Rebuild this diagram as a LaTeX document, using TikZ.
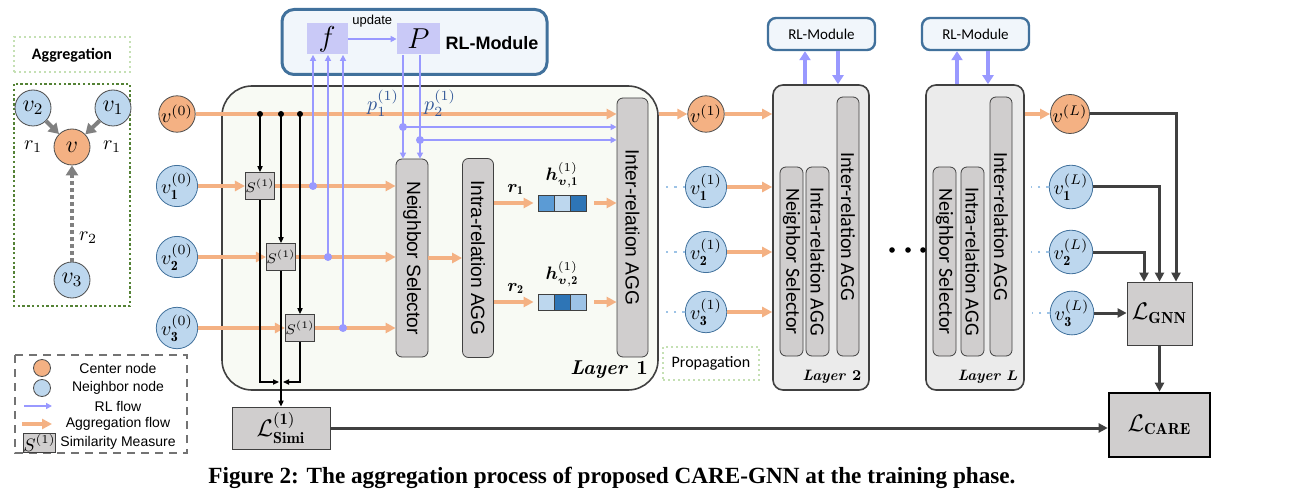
\documentclass[tikz,border=0pt]{standalone}
\usepackage{fontspec}
\usepackage{amsmath,amssymb}
\usepackage{bm}
\newfontfamily\arialf{Liberation Sans}
\newfontfamily\calif{Carlito}
\newfontfamily\capf{Liberation Serif}
\usetikzlibrary{arrows.meta,positioning,calc}

\definecolor{orng}{HTML}{F4B183}
\definecolor{lblue}{HTML}{BDD7EE}
\definecolor{rlc}{HTML}{9999FF}
\definecolor{boxg}{HTML}{D0CECE}
\definecolor{steel}{HTML}{41719C}
\definecolor{dkg}{HTML}{404040}
\definecolor{pblue}{HTML}{2F5597}
\definecolor{dgreen}{HTML}{548235}
\definecolor{lgreen}{HTML}{C5E0B4}
\definecolor{cellA}{HTML}{5B9BD5}
\definecolor{cellB}{HTML}{BDD7EE}
\definecolor{cellC}{HTML}{2E75B6}
\definecolor{cellD}{HTML}{9DC3E6}
\definecolor{layA}{HTML}{F8FAF4}
\definecolor{layB}{HTML}{EBEBEB}
\definecolor{rlfill}{HTML}{F1F6FB}
\definecolor{fpfill}{HTML}{C9C9F7}

\tikzset{
  cnode/.style={circle,draw=black!70,fill=orng,inner sep=0pt,minimum size=17pt},
  nnode/.style={circle,draw=steel,fill=lblue,inner sep=0pt,minimum size=17pt},
  anode/.style={circle,draw=black!70,inner sep=0pt,minimum size=18pt,font=\large},
  aggf/.style={draw=orng,line width=1.6pt,-{Triangle[length=5pt,width=5pt]}},
  rlf/.style={draw=rlc,line width=0.8pt,-{Triangle[length=3pt,width=3pt]}},
  rlthick/.style={draw=rlc,line width=2pt,-{Triangle[length=4.5pt,width=5.5pt]}},
  blk/.style={draw=black,line width=0.6pt,-{Triangle[length=3pt,width=2.6pt]}},
  outf/.style={draw=dkg,line width=1.5pt,-{Triangle[length=4.5pt,width=4.5pt]}},
  garr/.style={draw=black!50,line width=2pt,-{Triangle[length=5pt,width=6pt]}},
  dotl/.style={draw=cellD,line width=1.2pt,dash pattern=on 1.2pt off 3pt},
  sbox/.style={draw=dkg,fill=boxg,inner sep=0pt,minimum width=13pt,minimum height=13.5pt,font=\scriptsize},
  opbox/.style={draw=dkg,fill=boxg,rounded corners=3pt,inner sep=0pt},
  optext/.style={rotate=-90,font=\arialf\fontsize{9.6}{11}\selectfont},
  optextb/.style={rotate=-90,font=\calif\fontsize{10}{11}\selectfont},
  cell/.style={draw=dkg,inner sep=0pt,minimum size=8pt},
  lossbox/.style={draw=dkg,fill=boxg,inner sep=0pt,font=\large},
  rlsmall/.style={draw=steel,fill=rlfill,line width=1.2pt,rounded corners=4pt,inner sep=0pt,
    minimum width=53.5pt,minimum height=16pt,font=\calif\fontsize{7.5}{9}\selectfont},
  laybox/.style={draw=black!75,line width=0.8pt,rounded corners=5pt,inner sep=0pt},
  leg/.style={font=\arialf\fontsize{7}{8}\selectfont}
}

\begin{document}
\begin{tikzpicture}[x=0.5pt,y=-0.5pt]
\useasboundingbox (0,0) rectangle (1294,502);

% aggregation panel
\node[draw=lgreen,line width=1pt,dash pattern=on 1pt off 1.5pt,minimum width=58pt,minimum height=17.5pt,
  font=\calif\bfseries\fontsize{8}{9}\selectfont] (AT) at (72,55) {Aggregation};
\draw[dgreen,line width=1.2pt,dash pattern=on 1.2pt off 1.2pt] (14,84) rectangle (130,306);
\node[anode,fill=lblue] (A2) at (33,108) {$v_2$};
\node[anode,fill=lblue] (A1) at (113,108) {$v_1$};
\node[anode,fill=orng] (AV) at (72,147) {$v$};
\node[anode,fill=lblue] (A3) at (72,280) {$v_3$};
\draw[garr] (A2) -- (AV);
\draw[garr] (A1) -- (AV);
\draw[garr,dash pattern=on 2pt off 1.5pt] (A3) -- (AV);
\node at (33,147) {$r_1$};
\node at (112,147) {$r_1$};
\node at (88,238) {$r_2$};

% legend
\draw[black!55,line width=1pt,dash pattern=on 4pt off 3pt] (15,355) rectangle (187,453);
\node[cnode,minimum size=8.5pt] (LC) at (42,368) {};
\node[nnode,draw=black!70,minimum size=8.5pt] (LN) at (42,388) {};
\coordinate (lr1) at (24,406);
\coordinate (lr2) at (52,406);
\coordinate (la1) at (22,424);
\coordinate (la2) at (52,424);
\draw[rlf] (lr1) -- (lr2);
\draw[aggf] (la1) -- (la2);
\node[sbox,minimum width=15.5pt,minimum height=9.5pt,font=\small] (LS1) at (39.5,443) {$S^{(1)}$};
\node[leg] at (118,368) {Center node};
\node[leg] at (118,388) {Neighbor node};
\node[leg] at (118,406) {RL flow};
\node[leg] at (118,424) {Aggregation flow};
\node[leg] at (118,443) {Similarity Measure};

% RL module
\node[draw=steel,fill=rlfill,line width=1.5pt,rounded corners=6pt,minimum width=132.5pt,minimum height=32.5pt] (RL) at (414.5,42) {};
\node[fill=fpfill,minimum width=20.5pt,minimum height=15.5pt,inner sep=0pt] (F) at (327,39) {\Large$f$};
\node[fill=fpfill,minimum width=21.5pt,minimum height=15.5pt,inner sep=0pt] (P) at (418.5,39) {\Large$P$};
\node[font=\arialf\bfseries\fontsize{9}{10}\selectfont] at (492,43) {RL-Module};
\draw[rlf] (F) -- (P) node[midway,above=2pt,font=\arialf\fontsize{6.5}{7}\selectfont] {update};

% layer 1
\node[laybox,fill=layA,rounded corners=15pt,minimum width=218pt,minimum height=152pt] (L1) at (440,238) {};
\node[font=\bfseries\itshape] at (609,370) {Layer \textup{1}};

\node[cnode] (V0) at (177,114) {$v^{(0)}$};
\node[nnode] (V1) at (177,186) {$v^{(0)}_{\mathbf 1}$};
\node[nnode] (V2) at (177,257) {$v^{(0)}_{\mathbf 2}$};
\node[nnode] (V3) at (177,328) {$v^{(0)}_{\mathbf 3}$};

\node[sbox] (S1) at (260,186) {$S^{(1)}$};
\node[sbox] (S2) at (281,257) {$S^{(1)}$};
\node[sbox] (S3) at (300,328) {$S^{(1)}$};

\node[opbox,minimum width=16pt,minimum height=99pt] (NS) at (412,258) {};
\node[optext] at (NS) {Neighbor Selector};
\node[opbox,minimum width=15.5pt,minimum height=99.5pt] (IA) at (478,258) {};
\node[optext] at (IA) {Intra-relation AGG};
\node[opbox,minimum width=15.5pt,minimum height=129.5pt] (EA) at (632.5,227.5) {};
\node[optext] at (EA) {Inter-relation AGG};

\node[cell,fill=cellA] (H1a) at (546,203) {};
\node[cell,fill=cellB] (H1b) at (562,203) {};
\node[cell,fill=cellC] (H1c) at (578,203) {};
\node[cell,fill=cellB] (H2a) at (546,302) {};
\node[cell,fill=cellC] (H2b) at (562,302) {};
\node[cell,fill=cellD] (H2c) at (578,302) {};
\node[font=\small,above=0pt of H1b] {$\bm{h}^{(1)}_{\bm{v},\mathbf{1}}$};
\node[font=\small,above=0pt of H2b] {$\bm{h}^{(1)}_{\bm{v},\mathbf{2}}$};

\draw[aggf] (V0) -- (V0 -| EA.west);
\draw[aggf] (V1) -- (S1);
\draw[aggf] (V2) -- (S2);
\draw[aggf] (V3) -- (S3);
\draw[aggf] (S1) -- (S1 -| NS.west);
\draw[aggf] (S2) -- (S2 -| NS.west);
\draw[aggf] (S3) -- (S3 -| NS.west);
\draw[aggf] (NS) -- (IA);
\draw[aggf,shorten >=2pt] (IA.east |- H1a) -- (H1a) node[midway,above,font=\small] {$\bm{r}_{\mathbf 1}$};
\draw[aggf,shorten >=2pt] (IA.east |- H2a) -- (H2a) node[midway,above,font=\small] {$\bm{r}_{\mathbf 2}$};
\draw[aggf,shorten <=4pt] (H1c) -- (H1c -| EA.west);
\draw[aggf,shorten <=4pt] (H2c) -- (H2c -| EA.west);

% similarity
\coordinate (d1) at (260,114);
\coordinate (d2) at (281,114);
\coordinate (d3) at (300,114);
\coordinate (m) at (281,382);
\foreach \d/\s in {d1/S1,d2/S2,d3/S3}{
  \draw[blk] (\d) -- (\s.north);
  \fill (\d) circle (1.5pt);
}
\node[lossbox,minimum width=49pt,minimum height=21pt] (LSIM) at (281,428) {$\mathcal{L}^{(\mathbf{1})}_{\mathbf{Simi}}$};
\draw[blk] (S1.south) |- ($(m)+(-2,0)$);
\draw[blk] (S3.south) |- ($(m)+(2,0)$);
\draw[blk] (S2.south) -- (LSIM.north);

% RL flow
\coordinate (f1) at (313,186);
\coordinate (f2) at (328,257);
\coordinate (f3) at (343,328);
\foreach \f in {f1,f2,f3}{
  \draw[rlf] (\f) -- (\f |- F.south);
  \fill[rlc] (\f) circle (2pt);
}
\coordinate (p1) at (403,127);
\coordinate (p2) at (420,140);
\foreach \p in {p1,p2}{
  \draw[rlf] (P.south -| \p) -- (\p |- NS.north);
  \draw[rlf] (\p) -- (\p -| EA.west);
  \fill[rlc] (\p) circle (2pt);
}
\node[text=pblue] (PL1) at (383,103) {$p^{(1)}_1$};
\node[text=pblue] (PL2) at (440,103) {$p^{(1)}_2$};

% layer 1 outputs
\node[cnode] (O0) at (706,114) {$v^{(1)}$};
\node[nnode] (O1) at (706,187) {$v^{(1)}_{\mathbf 1}$};
\node[nnode] (O2) at (706,252) {$v^{(1)}_{\mathbf 2}$};
\node[nnode] (O3) at (706,312) {$v^{(1)}_{\mathbf 3}$};
\node[draw=lgreen,line width=1pt,dash pattern=on 1pt off 1.5pt,minimum width=48pt,minimum height=16.5pt,
  font=\calif\fontsize{8}{9}\selectfont] (PR) at (711,363.5) {Propagation};

% layer 2 and L
\node[laybox,fill=layB,minimum width=48pt,minimum height=152.5pt] (L2) at (821,237.5) {};
\node[opbox,minimum width=11.5pt,minimum height=94.5pt] (NS2) at (791.5,261.5) {};
\node[optextb] at (NS2) {Neighbor Selector};
\node[opbox,minimum width=11.5pt,minimum height=94.5pt] (IA2) at (817.5,261.5) {};
\node[optextb] at (IA2) {Intra-relation AGG};
\node[opbox,minimum width=11pt,minimum height=129.5pt] (EA2) at (848,226.5) {};
\node[optextb] at (EA2) {Inter-relation AGG};
\node[font=\bfseries\itshape\fontsize{7.5}{9}\selectfont] at (832,377) {Layer \textup{2}};
\node[rlsmall] (R2) at (821.5,34) {RL-Module};
\draw[rlthick] ($(L2.north)+(-16,0)$) -- ($(R2.south)+(-16.5,0)$);
\draw[rlthick] ($(R2.south)+(16.5,0)$) -- ($(L2.north)+(17,0)$);

\node[laybox,fill=layB,minimum width=49pt,minimum height=152.5pt] (LL) at (975,237.5) {};
\node[opbox,minimum width=11.5pt,minimum height=94.5pt] (NSL) at (944.5,261.5) {};
\node[optextb] at (NSL) {Neighbor Selector};
\node[opbox,minimum width=11.5pt,minimum height=94.5pt] (IAL) at (972.5,261.5) {};
\node[optextb] at (IAL) {Intra-relation AGG};
\node[opbox,minimum width=11pt,minimum height=129.5pt] (EAL) at (1001,226.5) {};
\node[optextb] at (EAL) {Inter-relation AGG};
\node[font=\bfseries\itshape\fontsize{7.5}{9}\selectfont] at (988,377) {Layer $\bm{L}$};
\node[rlsmall] (RLL) at (975.5,34) {RL-Module};
\draw[rlthick] ($(LL.north)+(-18,0)$) -- ($(RLL.south)+(-18.5,0)$);
\draw[rlthick] ($(RLL.south)+(12.5,0)$) -- ($(LL.north)+(13,0)$);

\foreach \x in {892,908,923}{
  \fill (\x,250) circle (1.4pt);
}

\draw[aggf] (L1.east |- O0) -- (O0);
\foreach \o in {O0,O1,O2,O3}{
  \draw[aggf] (\o) -- (\o -| L2.west);
}
\foreach \o in {O1,O2,O3}{
  \draw[dotl] (\o.west) -- ++(-22,0);
}

% outputs and losses
\node[cnode] (Q0) at (1070,114) {$v^{(L)}$};
\node[nnode] (Q1) at (1071,187) {$v^{(L)}_{\mathbf 1}$};
\node[nnode] (Q2) at (1071,252) {$v^{(L)}_{\mathbf 2}$};
\node[nnode] (Q3) at (1072,313) {$v^{(L)}_{\mathbf 3}$};
\draw[aggf] (LL.east |- Q0) -- (Q0);
\foreach \q in {Q1,Q2,Q3}{
  \draw[dotl] (\q.west) -- ++(-18,0);
}
\node[lossbox,minimum width=32.5pt,minimum height=31.5pt] (GNN) at (1159.5,313.5) {$\mathcal{L}_{\mathbf{GNN}}$};
\node[lossbox,draw=black,line width=1.3pt,minimum width=50.5pt,minimum height=32pt] (CARE) at (1159.5,425) {$\mathcal{L}_{\mathbf{CARE}}$};
\draw[outf] (Q0) -| ($(GNN.north)+(16.5,0)$);
\draw[outf] (Q1) -| (GNN.north);
\draw[outf] (Q2) -| ($(GNN.north)+(-15.5,0)$);
\draw[outf] (Q3) -- (Q3 -| GNN.west);
\draw[outf] (GNN) -- (CARE);
\draw[outf] (LSIM) -- (CARE.west |- LSIM);

\node[font=\capf\bfseries\fontsize{11.6}{13}\selectfont] (CAP) at (612,478) {Figure 2: The aggregation process of proposed CARE-GNN at the training phase.};
\end{tikzpicture}
\end{document}
